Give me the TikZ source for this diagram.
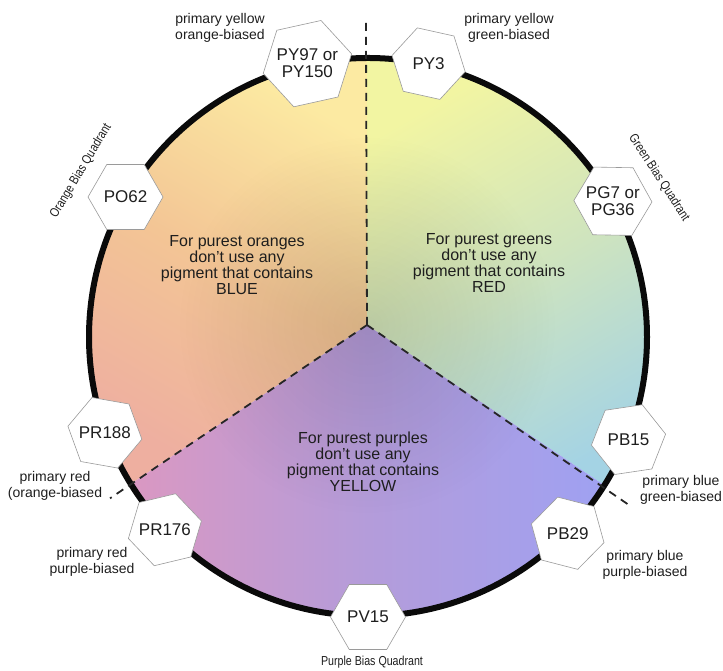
\documentclass[tikz,border=0pt]{standalone}
\usepackage{fontspec}
\setmainfont{Liberation Sans}
\newfontfamily\narrowsans[FakeStretch=0.82]{Liberation Sans}
\usetikzlibrary{shapes.geometric,calc,fadings}

\definecolor{wheelrim}{HTML}{0A0A0A}
\definecolor{hexline}{HTML}{9A9A9A}
\definecolor{inktext}{HTML}{1E1E1E}
\definecolor{orgtop}{HTML}{FCEAA2}
\definecolor{orgmid}{HTML}{F3C595}
\definecolor{orgbot}{HTML}{EEAFA0}
\definecolor{grntop}{HTML}{F2F5A2}
\definecolor{grnmid}{HTML}{CFE4BE}
\definecolor{grnbot}{HTML}{A4D3E4}
\definecolor{purleft}{HTML}{DA98C2}
\definecolor{purmid}{HTML}{B49CDA}
\definecolor{purright}{HTML}{9FA1F2}

\tikzfading[name=centreshade, inner color=transparent!0, outer color=transparent!100]

\tikzset{
  hexa/.style={regular polygon, regular polygon sides=6, minimum size=75pt, inner sep=-3pt,
    fill=white, draw=hexline, line width=0.6pt, font=\fontsize{17}{17}\selectfont, align=center, text=inktext},
  note/.style={font=\fontsize{14}{16}\selectfont, align=center, text=inktext},
  quadrant/.style={font=\narrowsans\fontsize{13}{13}\selectfont, text=inktext},
  advice/.style={font=\fontsize{16}{16}\selectfont, align=center, text=inktext},
  divider/.style={line width=1.8pt, dash pattern=on 8pt off 6pt, color=black!85},
}

\begin{document}
\begin{tikzpicture}[x=1pt,y=1pt]
\useasboundingbox (0,0) rectangle (723,671);
\coordinate (C) at (368,334);
\coordinate (J) at (367,346);
\coordinate (rimtop) at ($(C)+(90.2:279)$);
\coordinate (rimleft) at ($(C)+(211.8:279)$);
\coordinate (rimright) at ($(C)+(327.9:279)$);

% the three colour fields
\shade[top color=orgtop, bottom color=orgbot, middle color=orgmid, shading angle=-30]
  (J) -- (rimtop) arc[start angle=90.2, end angle=211.8, radius=279] -- cycle;
\shade[top color=grntop, bottom color=grnbot, middle color=grnmid, shading angle=30]
  (J) -- (rimright) arc[start angle=-32.1, end angle=90.2, radius=279] -- cycle;
\shade[left color=purleft, right color=purright, middle color=purmid]
  (J) -- (rimleft) arc[start angle=211.8, end angle=327.9, radius=279] -- cycle;
\fill[black, opacity=0.12, path fading=centreshade] (J) circle (190);

\draw[line width=6pt, color=wheelrim] (C) circle (279);

\coordinate (divtop) at ($(J)+(90.2:303)$);
\coordinate (divleft) at ($(J)+(214:310)$);
\coordinate (divright) at ($(J)+(325.5:318)$);
\draw[divider] (J) -- (divtop);
\draw[divider] (J) -- (divleft);
\draw[divider] (J) -- (divright);

\foreach \hexname/\hexang/\hextext in {py97/102.5/{PY97 or\\PY150}, py3/77.5/PY3, po62/150/PO62,
    pg7/29/{PG7 or\\PG36}, pr188/200/PR188, pr176/223.5/PR176, pv15/270/PV15,
    pb29/315.5/PB29, pb15/338.5/PB15}{
  \pgfmathsetmacro\hexturn{\hexang-90}
  \node[hexa, shape border rotate=\hexturn] (\hexname) at ($(C)+(\hexang:280)$) {\hextext};
}

\node[note] (yelloworange) at (220,643) {primary yellow\\orange-biased};
\node[note] (yellowgreen) at (509,643) {primary yellow\\green-biased};
\node[note] (redorange) at (55,185) {primary red\\(orange-biased};
\node[note] (redpurple) at (92,109) {primary red\\purple-biased};
\node[note] (bluegreen) at (681,181) {primary blue\\green-biased};
\node[note] (bluepurple) at (645,106) {primary blue\\purple-biased};

\node[quadrant, rotate=59] (orangequad) at (81,500) {Orange Bias Quadrant};
\node[quadrant, rotate=-57] (greenquad) at (659,493) {Green Bias Quadrant};
\node[quadrant] (purplequad) at (372,9) {Purple Bias Quadrant};

\node[advice] (orangehint) at (237,406) {For purest oranges\\don't use any\\pigment that contains\\BLUE};
\node[advice] (greenhint) at (489,408) {For purest greens\\don't use any\\pigment that contains\\RED};
\node[advice] (purplehint) at (363,209) {For purest purples\\don't use any\\pigment that contains\\YELLOW};
\end{tikzpicture}
\end{document}
